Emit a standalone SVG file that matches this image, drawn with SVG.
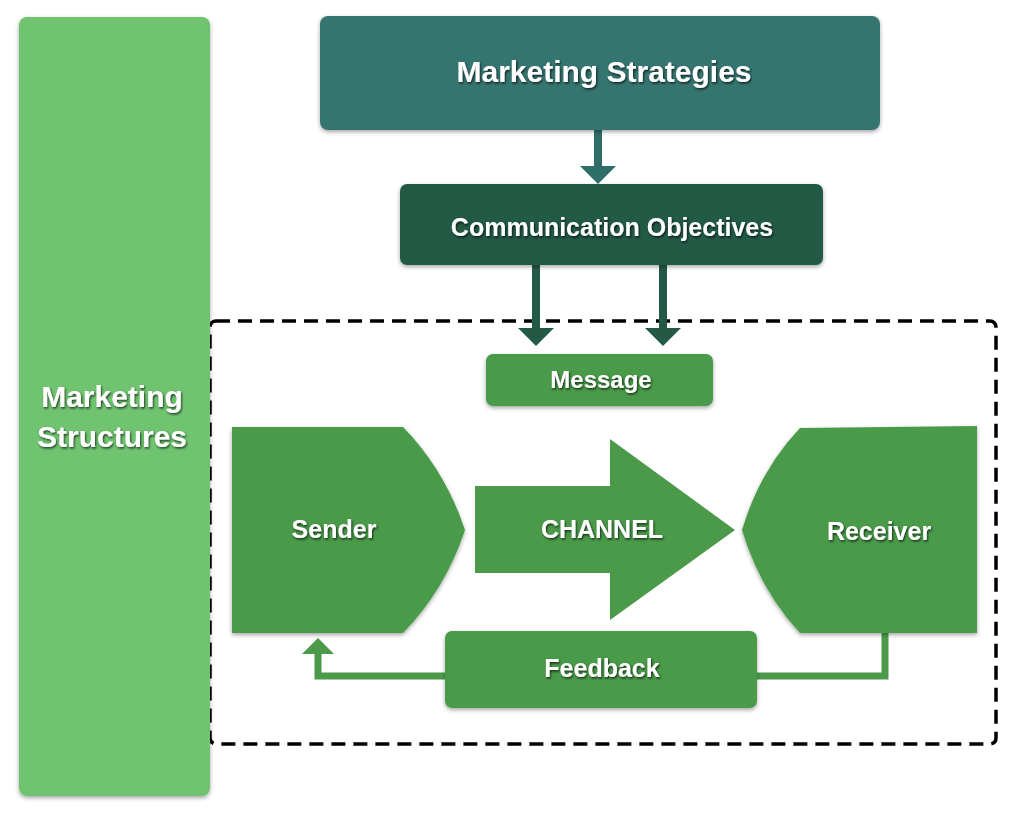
<svg xmlns="http://www.w3.org/2000/svg" width="1024" height="813" viewBox="0 0 1024 813">
<defs>
<filter id="sh" x="-10%" y="-10%" width="120%" height="130%"><feDropShadow dx="0" dy="2" stdDeviation="2" flood-color="#000" flood-opacity="0.35"/></filter>
<filter id="ts"><feDropShadow dx="1" dy="1.5" stdDeviation="1" flood-color="#000" flood-opacity="0.7"/></filter>
</defs>
<style>
text{font-family:"Liberation Sans",Arial,sans-serif;font-weight:bold;fill:#fff;text-anchor:middle;filter:url(#ts)}
.g{fill:#4a9a4a}
</style>
<rect x="0" y="0" width="1024" height="813" fill="#fff"/>
<g id="connectors">
<rect x="210" y="321" width="786" height="423" rx="6" fill="none" stroke="#000" stroke-width="3.5" stroke-dasharray="14,8"/>
<path d="M598 130V168" stroke="#2f6e66" stroke-width="8" fill="none"/>
<path d="M580 166H616L598 184Z" fill="#2f6e66"/>
<path d="M536 265V330M663 265V330" stroke="#245a45" stroke-width="8" fill="none"/>
<path d="M518 328H554L536 346ZM645 328H681L663 346Z" fill="#245a45"/>
<path d="M885 633V676H757M445 676H318V652" stroke="#4a9a4a" stroke-width="7" fill="none"/>
<path d="M302 654H334L318 638Z" fill="#4a9a4a"/>
</g>
<g id="bar"><rect x="19" y="17" width="191" height="779" rx="8" fill="#6fc46f" filter="url(#sh)"/>
<text x="112" y="407" font-size="30">Marketing</text><text x="112" y="447" font-size="30">Structures</text></g>
<g id="strategies"><rect x="320" y="16" width="560" height="114" rx="8" fill="#367570" filter="url(#sh)"/><text x="604" y="82" font-size="30">Marketing Strategies</text></g>
<g id="objectives"><rect x="400" y="184" width="423" height="81" rx="7" fill="#245a45" filter="url(#sh)"/><text x="612" y="236" font-size="25">Communication Objectives</text></g>
<g id="message"><rect x="486" y="354" width="227" height="52" rx="7" class="g" filter="url(#sh)"/><text x="601" y="388" font-size="24">Message</text></g>
<g id="sender"><path d="M232 427H403Q445 470 465 530Q445 590 403 633H232Z" class="g" filter="url(#sh)"/><text x="334" y="538" font-size="25">Sender</text></g>
<g id="channel"><path d="M475 486H610V439L735 530L610 620V573H475Z" class="g"/><text x="602" y="538" font-size="25">CHANNEL</text></g>
<g id="receiver"><path d="M977 426V633H800Q760 590 742 530Q760 470 800 428Z" class="g" filter="url(#sh)"/><text x="879" y="540" font-size="25">Receiver</text></g>
<g id="feedback"><rect x="445" y="631" width="312" height="77" rx="7" class="g" filter="url(#sh)"/><text x="602" y="677" font-size="25">Feedback</text></g>
</svg>
